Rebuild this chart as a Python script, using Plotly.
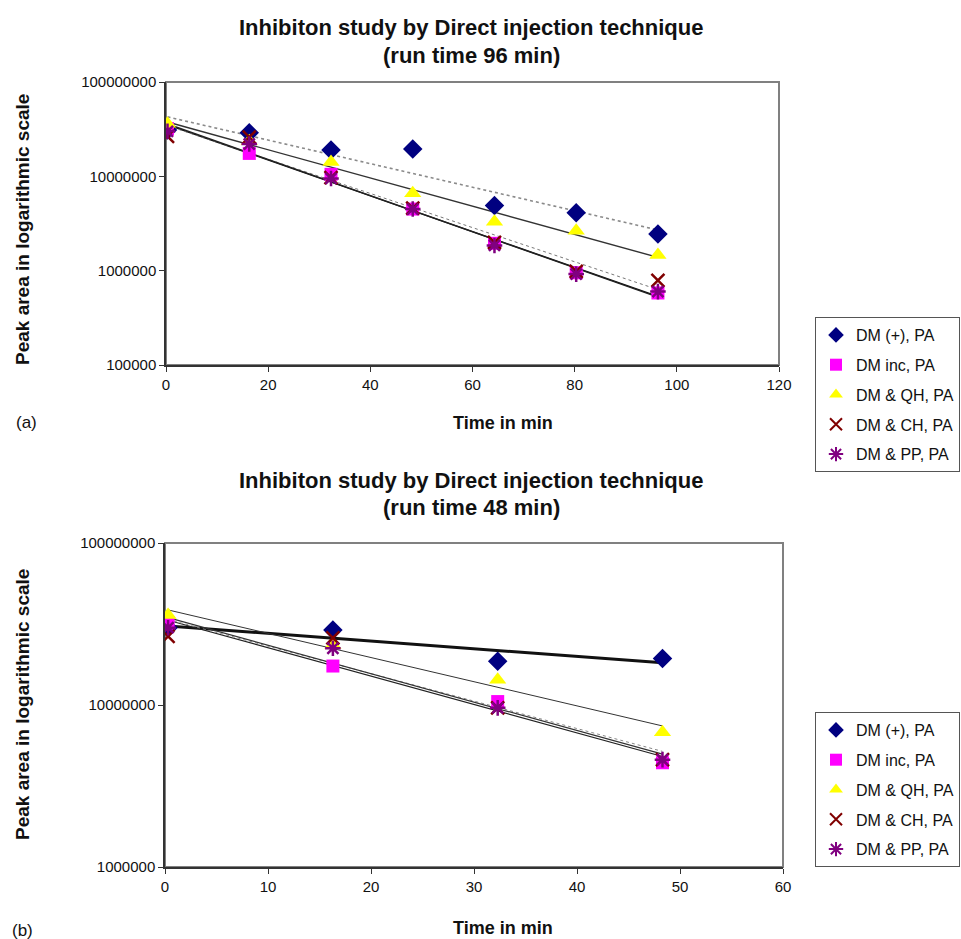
import numpy as np
import plotly.graph_objects as go

# ---------------- data ----------------
series_names = ["DM (+), PA", "DM inc, PA", "DM & QH, PA", "DM & CH, PA", "DM & PP, PA"]

time_96 = [0.3, 16.3, 32.3, 48.3, 64.3, 80.3, 96.3]
dm_plus_96 = [3.1e7, 2.9e7, 1.9e7, 1.95e7, 4.9e6, 4.1e6, 2.45e6]
dm_inc_96 = [3.2e7, 1.75e7, 1.05e7, 4.5e6, 1.95e6, 9.5e5, 5.8e5]
dm_qh_96 = [3.6e7, 2.35e7, 1.42e7, 6.6e6, 3.3e6, 2.65e6, 1.47e6]
dm_ch_96 = [2.65e7, 2.6e7, 9.7e6, 4.6e6, 2.0e6, 9.8e5, 7.9e5]
dm_pp_96 = [3.0e7, 2.2e7, 9.5e6, 4.5e6, 1.85e6, 9.2e5, 6.0e5]

time_48 = [0.3, 16.3, 32.3, 48.3]
dm_plus_48 = [3.0e7, 2.9e7, 1.86e7, 1.94e7]
dm_inc_48 = [3.2e7, 1.74e7, 1.05e7, 4.4e6]
dm_qh_48 = [3.6e7, 2.35e7, 1.43e7, 6.8e6]
dm_ch_48 = [2.65e7, 2.6e7, 9.6e6, 4.6e6]
dm_pp_48 = [3.0e7, 2.24e7, 9.6e6, 4.6e6]

x_ticks_96 = [0, 20, 40, 60, 80, 100, 120]
x_ticks_48 = [0, 10, 20, 30, 40, 50, 60]
y_ticks_96 = [1e5, 1e6, 1e7, 1e8]
y_ticks_48 = [1e6, 1e7, 1e8]

# ---------------- styles ----------------
FONT = "Liberation Sans, Arial, sans-serif"
markers = [
    dict(symbol="diamond", color="#000080", size=15),
    dict(symbol="square", color="#FF00FF", size=13),
    dict(symbol="triangle-up", color="#FFFF00", size=15),
    dict(symbol="x-thin", color="#800000", size=13, line=dict(color="#800000", width=2.5)),
    dict(symbol="asterisk", color="#800080", size=13, line=dict(color="#800080", width=2.5)),
]
trend_96 = [
    dict(color="#8a8a8a", width=1.6, dash="dot"),
    dict(color="#111111", width=1.4),
    dict(color="#333333", width=1.4),
    dict(color="#777777", width=1.0, dash="dot"),
    dict(color="#222222", width=1.4),
]
trend_48 = [
    dict(color="#111111", width=3.0),
    dict(color="#222222", width=1.2),
    dict(color="#333333", width=1.0),
    dict(color="#888888", width=1.0, dash="dot"),
    dict(color="#333333", width=1.2),
]


def exp_fit(x, y):
    x = np.asarray(x, float)
    ly = np.log10(np.asarray(y, float))
    b, a = np.polyfit(x, ly, 1)
    xs = np.array([x[0], x[-1]])
    return xs, 10 ** (a + b * xs)


fig = go.Figure()

sets = [
    (time_96, [dm_plus_96, dm_inc_96, dm_qh_96, dm_ch_96, dm_pp_96], "x", "y", "legend", trend_96),
    (time_48, [dm_plus_48, dm_inc_48, dm_qh_48, dm_ch_48, dm_pp_48], "x2", "y2", "legend2", trend_48),
]

for tx, ys, xa, ya, lg, tstyles in sets:
    for i, yv in enumerate(ys):
        xs, yfit = exp_fit(tx, yv)
        fig.add_trace(go.Scatter(x=xs, y=yfit, mode="lines", line=tstyles[i],
                                 showlegend=False, hoverinfo="skip", xaxis=xa, yaxis=ya))
    for i, yv in enumerate(ys):
        fig.add_trace(go.Scatter(x=tx, y=yv, mode="markers", name=series_names[i],
                                 marker=markers[i], xaxis=xa, yaxis=ya, legend=lg,
                                 legendgroup=f"{lg}_{i}"))

H, W = 939, 961


def py(px):
    return 1 - px / H


def pxx(px):
    return px / W


axis_common = dict(showline=True, linecolor="#333333", linewidth=1.5, ticks="outside",
                   ticklen=5, tickcolor="#333333", showgrid=False, zeroline=False,
                   tickfont=dict(family=FONT, size=15, color="#111111"))

legend_common = dict(xanchor="left", yanchor="top", bordercolor="#555555", borderwidth=1,
                     bgcolor="white", font=dict(family=FONT, size=16, color="#111111"),
                     tracegroupgap=6, itemsizing="constant", itemwidth=30)

fig.update_layout(
    width=W, height=H, margin=dict(l=0, r=0, t=0, b=0, autoexpand=False),
    paper_bgcolor="white", plot_bgcolor="white",
    font=dict(family=FONT, color="#111111"),
    xaxis=dict(domain=[pxx(166), pxx(779)], range=[0, 120], tickvals=x_ticks_96,
               anchor="y", **axis_common),
    yaxis=dict(domain=[py(365), py(82)], type="log", range=[5, 8], tickvals=y_ticks_96,
               ticktext=[f"{int(v)}" for v in y_ticks_96], anchor="x", **axis_common),
    xaxis2=dict(domain=[pxx(165), pxx(783)], range=[0, 60], tickvals=x_ticks_48,
                anchor="y2", **axis_common),
    yaxis2=dict(domain=[py(867), py(543)], type="log", range=[6, 8], tickvals=y_ticks_48,
                ticktext=[f"{int(v)}" for v in y_ticks_48], anchor="x2", **axis_common),
    legend=dict(x=pxx(815), y=py(317), **legend_common),
    legend2=dict(x=pxx(815), y=py(712), **legend_common),
)

for (x0, x1, y0, y1) in [(166, 779, 82, 365), (165, 783, 543, 867)]:
    fig.add_shape(type="rect", xref="paper", yref="paper", x0=pxx(x0), x1=pxx(x1),
                  y0=py(y1), y1=py(y0), line=dict(color="#808080", width=2), layer="below")

ann = []


def add_text(x, y, text, size, bold=False, angle=0):
    if bold:
        text = f"<b>{text}</b>"
    ann.append(dict(x=pxx(x), y=py(y), xref="paper", yref="paper", text=text, showarrow=False,
                    xanchor="center", yanchor="middle", textangle=angle,
                    font=dict(family=FONT, size=size, color="#111111")))


add_text(471, 28, "Inhibiton study by Direct injection technique", 22, True)
add_text(471, 55, "(run time 96 min)", 22, True)
add_text(471, 480, "Inhibiton study by Direct injection technique", 22, True)
add_text(471, 507, "(run time 48 min)", 22, True)
add_text(503, 423, "Time in min", 18, True)
add_text(503, 928, "Time in min", 18, True)
add_text(22, 230, "Peak area in logarithmic scale", 19, True, -90)
add_text(22, 705, "Peak area in logarithmic scale", 19, True, -90)
add_text(26, 423, "(a)", 17)
add_text(22, 930, "(b)", 17)
fig.update_layout(annotations=ann)

fig.write_html("out.html")
